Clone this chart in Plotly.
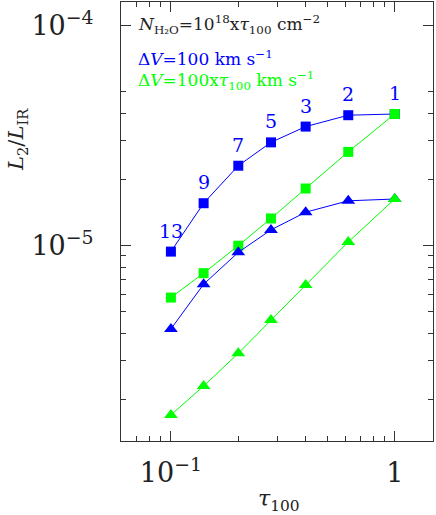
import numpy as np
import plotly.graph_objects as go

tau = [0.1, 0.14, 0.2, 0.28, 0.4, 0.62, 1.0]
n_labels = ["13", "9", "7", "5", "3", "2", "1"]
blue_sq = [9.4e-6, 1.56e-5, 2.31e-5, 2.95e-5, 3.48e-5, 3.92e-5, 3.97e-5]
green_sq = [5.81e-6, 7.5e-6, 1.0e-5, 1.33e-5, 1.82e-5, 2.67e-5, 3.97e-5]
blue_tri = [4.18e-6, 6.68e-6, 9.33e-6, 1.18e-5, 1.42e-5, 1.60e-5, 1.63e-5]
green_tri = [1.70e-6, 2.30e-6, 3.24e-6, 4.59e-6, 6.62e-6, 1.04e-5, 1.63e-5]

BLUE = "#0000ff"
GREEN = "#00ff00"
FONT = "DejaVu Serif"
INK = "#222222"

fig = go.Figure()
for y, c, sym, sz in [(blue_sq, BLUE, "square", 10), (green_sq, GREEN, "square", 10),
                      (blue_tri, BLUE, "triangle-up", 12), (green_tri, GREEN, "triangle-up", 12)]:
    fig.add_trace(go.Scatter(x=tau, y=y, mode="lines+markers",
                             line=dict(color=c, width=1),
                             marker=dict(symbol=sym, size=sz, color=c),
                             showlegend=False))

for xv, yv, t in zip(tau, blue_sq, n_labels):
    fig.add_annotation(x=np.log10(xv), y=np.log10(yv), text=t, showarrow=False,
                       yshift=21, font=dict(color=BLUE, size=19, family=FONT))

fig.add_annotation(xref="paper", yref="paper", x=0.047, y=0.948, xanchor="left", yanchor="middle",
                   text="<i>N</i><sub>H₂O</sub>=10<sup>18</sup>x<i>τ</i><sub>100</sub> cm<sup>−2</sup>",
                   showarrow=False, font=dict(color=INK, size=17, family=FONT))
fig.add_annotation(xref="paper", yref="paper", x=0.047, y=0.872, xanchor="left", yanchor="middle",
                   text="Δ<i>V</i>=100 km s<sup>−1</sup>",
                   showarrow=False, font=dict(color=BLUE, size=17, family=FONT))
fig.add_annotation(xref="paper", yref="paper", x=0.047, y=0.822, xanchor="left", yanchor="middle",
                   text="Δ<i>V</i>=100x<i>τ</i><sub>100</sub> km s<sup>−1</sup>",
                   showarrow=False, font=dict(color=GREEN, size=17, family=FONT))
fig.add_annotation(xref="paper", yref="paper", x=-0.333, y=0.686, textangle=-90,
                   xanchor="center", yanchor="middle",
                   text="<i>L</i><sub>2</sub>/<i>L</i><sub>IR</sub>",
                   showarrow=False, font=dict(color=INK, size=21, family=FONT))
fig.add_annotation(xref="paper", yref="paper", x=0.506, y=-0.136,
                   xanchor="center", yanchor="middle",
                   text="<i>τ</i><sub>100</sub>",
                   showarrow=False, font=dict(color=INK, size=22, family=FONT))

xminor = [0.07, 0.08, 0.09, 0.2, 0.3, 0.4, 0.5, 0.6, 0.7, 0.8, 0.9]
yminor = [2e-6, 3e-6, 4e-6, 5e-6, 6e-6, 7e-6, 8e-6, 9e-6, 2e-5, 3e-5, 4e-5, 5e-5]

fig.update_xaxes(type="log", range=[-1.223, 0.171], tickvals=[0.1, 1],
                 ticktext=["10<sup>−1</sup>", "1"], ticks="inside", ticklen=10,
                 showline=True, mirror="ticks", linecolor="#333", tickcolor="#333",
                 showgrid=False, zeroline=False, automargin=False, ticklabelstandoff=8,
                 tickfont=dict(size=27, family=FONT, color=INK),
                 minor=dict(tickvals=xminor, ticks="inside", ticklen=5, tickcolor="#333", showgrid=False))
fig.update_yaxes(type="log", range=[-5.888, -3.892], tickvals=[1e-5, 1e-4],
                 ticktext=["10<sup>−5</sup>", "10<sup>−4</sup>"], ticks="inside", ticklen=10,
                 showline=True, mirror="ticks", linecolor="#333", tickcolor="#333",
                 showgrid=False, zeroline=False, automargin=False, ticklabelstandoff=21,
                 tickfont=dict(size=27, family=FONT, color=INK),
                 minor=dict(tickvals=yminor, ticks="inside", ticklen=5, tickcolor="#333", showgrid=False))

fig.update_layout(width=436, height=515, margin=dict(l=121, r=3, t=2, b=74),
                  plot_bgcolor="white", paper_bgcolor="white", showlegend=False)
fig.write_html("out.html", config={"displayModeBar": False},
               post_script="document.body.style.margin='0';document.body.style.overflow='hidden';")
